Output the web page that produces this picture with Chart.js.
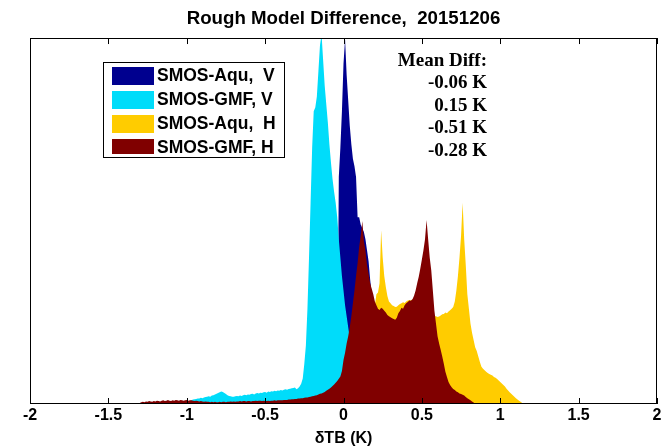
<!DOCTYPE html>
<html>
<head>
<meta charset="utf-8">
<script src="https://cdn.jsdelivr.net/npm/chart.js@4.4.1/dist/chart.umd.min.js"></script>
<style>
  body { margin: 0; background: #fff; }
  #wrap { width: 668px; height: 448px; }
</style>
</head>
<body>
<div id="wrap"><canvas id="hist" width="668" height="448"></canvas></div>
<script>
"use strict";
// histogram bins are 0.01 K wide, each series starts at its own first bin
const binWidth = 0.01;

const seriesLabels = ["SMOS-Aqu,  V", "SMOS-GMF, V", "SMOS-Aqu,  H", "SMOS-GMF, H"];
const seriesColors = ["#00008f", "#00dcfa", "#ffcc00", "#800000"];
const meanDiff = ["-0.06 K", "0.15 K", "-0.51 K", "-0.28 K"];
const xTicks = [-2, -1.5, -1, -0.5, 0, 0.5, 1, 1.5, 2];

// SMOS-Aqu, V (dark blue)
const aquVStart = -0.04;
const aquV = [
  0, 62, 70, 80, 93, 99.7, 90, 83, 76, 71,
  67, 65, 62, 51, 51, 49, 48, 47, 45, 42,
  39, 34, 30, 25, 18, 12, 6, 0
];

// SMOS-GMF, V (cyan)
const gmfVStart = -1.00;
const gmfV = [
  0.3, 0.5, 0.8, 1.0, 1.2, 1.3, 1.4, 1.5, 1.5, 1.7,
  1.6, 1.8, 1.9, 2.0, 2.1, 2.0, 2.3, 2.4, 2.6, 2.8,
  3.0, 3.2, 3.4, 3.3, 3.0, 2.7, 2.4, 2.2, 2.1, 2.0,
  2.0, 2.1, 2.2, 2.1, 2.3, 2.2, 2.4, 2.5, 2.4, 2.6,
  2.5, 2.7, 2.8, 2.6, 2.9, 3.0, 2.9, 3.1, 3.0, 3.2,
  3.3, 3.1, 3.4, 3.3, 3.5, 3.4, 3.6, 3.5, 3.7, 3.6,
  3.8, 3.7, 3.9, 4.0, 3.9, 4.1, 4.2, 4.3, 4.4, 4.5,
  4.0, 4.3, 4.8, 5.5, 7.0, 11, 16, 26, 40, 55,
  70, 80, 81, 84, 91, 98, 101, 94, 87, 82,
  77, 71, 66, 61.5, 58, 55, 51, 45, 40, 35,
  31, 27, 24, 21, 18, 11, 4, 0
];

// SMOS-Aqu, H (yellow)
const aquHStart = 0.00;
const aquH = [
  2, 3, 4, 5, 6, 7.5, 9, 10.5, 12, 13.5,
  15, 16.5, 18, 19.5, 21, 22, 23, 24, 24.5, 25,
  27, 30, 30.5, 33, 47.5, 40, 35, 32, 29.5, 28,
  27.5, 27, 26.8, 26.5, 26.6, 27, 27.3, 27.5, 27.8, 27.6,
  28, 28.3, 28.4, 28.3, 28.6, 28.4, 28, 27.8, 27.5, 27.2,
  27, 26.8, 26.5, 26.2, 26, 25.5, 25, 24.5, 24, 24,
  23.8, 23.9, 24.2, 24.5, 24.6, 25, 24.8, 25.3, 25.6, 26,
  26.5, 28, 31, 35, 40, 46, 55, 45, 38, 30,
  26, 22, 19.5, 17.5, 15.5, 14.5, 13, 11.5, 10.2, 9.6,
  9.2, 8.8, 8.5, 8.2, 8, 7.8, 7.4, 7.2, 6.8, 6.4,
  6, 5.6, 5.2, 4.8, 4.2, 3.7, 3.2, 2.8, 2.4, 2,
  1.6, 1.2, 0.9, 0.6, 0.3, 0
];

// SMOS-GMF, H (dark red)
const gmfHStart = -1.30;
const gmfH = [
  0.3, 0.5, 0.6, 0.5, 0.7, 0.6, 0.8, 0.7, 0.6, 0.8,
  0.7, 0.9, 0.8, 0.7, 0.9, 1.0, 0.8, 0.9, 1.1, 0.9,
  0.8, 1.0, 0.9, 1.1, 1.0, 0.9, 1.1, 1.0, 0.9, 1.0,
  1.1, 0.9, 1.0, 1.0, 0.9, 0.8, 0.9, 0.8, 0.7, 0.8,
  0.7, 0.6, 0.7, 0.6, 0.6, 0.5, 0.6, 0.5, 0.6, 0.5,
  0.5, 0.6, 0.5, 0.6, 0.6, 0.5, 0.6, 0.6, 0.7, 0.6,
  0.7, 0.6, 0.7, 0.7, 0.8, 0.7, 0.8, 0.8, 0.7, 0.8,
  0.8, 0.7, 0.8, 0.8, 0.9, 0.8, 0.9, 0.9, 0.8, 0.9,
  0.8, 0.8, 0.9, 0.8, 0.9, 0.9, 1.0, 0.9, 1.0, 1.0,
  1.0, 1.0, 1.1, 1.1, 1.1, 1.2, 1.2, 1.3, 1.3, 1.4,
  1.4, 1.5, 1.5, 1.6, 1.6, 1.7, 1.8, 1.8, 1.9, 2.0,
  2.1, 2.2, 2.3, 2.4, 2.6, 2.8, 2.9, 3.1, 3.3, 3.6,
  3.9, 4.2, 4.5, 4.9, 5.3, 5.8, 6.3, 6.9, 7.5, 9.0,
  12, 14, 16.5, 18.5, 21, 24, 27.5, 31, 35, 38.5,
  43, 46, 50, 44.5, 42, 38, 35.5, 33, 31.5, 30,
  28, 27, 26, 25.7, 26.3, 26, 25.5, 25, 24.3, 24,
  23.7, 23.4, 23.2, 23, 23.6, 24.8, 25.4, 26.3, 26, 27,
  27.5, 27.9, 28.3, 28.2, 28.6, 29.6, 31, 33, 34.8, 37,
  39.5, 42, 45, 50.3, 45, 40, 36.5, 31, 25.5, 22,
  18.5, 16.5, 14.8, 13, 11, 8.8, 7.4, 6, 5.2, 4.6,
  4.1, 3.8, 3.4, 3.2, 2.9, 2.7, 2.5, 2.3, 1.9, 1.6,
  1.3, 1.0, 0.7, 0.4, 0
];

// turn a bin start + counts into points for the linear x scale
function toPoints(start, counts) {
  return counts.map(function (c, i) {
    return { x: +(start + i * binWidth).toFixed(2), y: c };
  });
}

const seriesData = [
  toPoints(aquVStart, aquV),
  toPoints(gmfVStart, gmfV),
  toPoints(aquHStart, aquH),
  toPoints(gmfHStart, gmfH)
];

const datasets = seriesData.map(function (pts, i) {
  return {
    label: seriesLabels[i],
    data: pts,
    backgroundColor: seriesColors[i],
    borderColor: seriesColors[i],
    borderWidth: 0,
    pointRadius: 0,
    fill: "origin",
    tension: 0,
    order: 3 - i // later series sit on top, like the MATLAB plot
  };
});

// box + inward ticks
const framePlugin = {
  id: "frame",
  afterDatasetsDraw(chart) {
    const ctx = chart.ctx;
    const a = chart.chartArea;
    const xs = chart.scales.x;
    ctx.save();
    ctx.strokeStyle = "#000";
    ctx.lineWidth = 1;
    ctx.strokeRect(Math.round(a.left) + 0.5, Math.round(a.top) + 0.5,
      Math.round(a.right - a.left) - 1, Math.round(a.bottom - a.top) - 1);
    ctx.beginPath();
    xTicks.forEach(function (t) {
      const px = Math.round(xs.getPixelForValue(t)) + 0.5;
      ctx.moveTo(px, a.top);
      ctx.lineTo(px, a.top + 6);
      ctx.moveTo(px, a.bottom);
      ctx.lineTo(px, a.bottom - 6);
    });
    ctx.stroke();
    ctx.restore();
  }
};

// MATLAB style legend box inside the axes
const legendBoxPlugin = {
  id: "legendBox",
  afterDraw(chart) {
    const ctx = chart.ctx;
    const left = 103, top = 62, w = 181, h = 95;
    ctx.save();
    ctx.fillStyle = "#fff";
    ctx.fillRect(left, top, w, h);
    ctx.strokeStyle = "#000";
    ctx.lineWidth = 1;
    ctx.strokeRect(left + 0.5, top + 0.5, w, h);
    ctx.font = "bold 17.5px 'Liberation Sans', Arial, sans-serif";
    ctx.textBaseline = "middle";
    chart.data.datasets.forEach(function (ds, i) {
      const rowY = top + 5 + i * 24;
      ctx.fillStyle = ds.backgroundColor;
      ctx.fillRect(left + 9, rowY, 42, Math.min(18, top + h - 3 - rowY));
      ctx.fillStyle = "#000";
      ctx.fillText(ds.label, left + 54, rowY + 9.5);
    });
    ctx.restore();
  }
};

// mean difference annotation
const meanDiffPlugin = {
  id: "meanDiff",
  afterDraw(chart) {
    const ctx = chart.ctx;
    ctx.save();
    ctx.font = "bold 19px 'Liberation Serif', 'Times New Roman', serif";
    ctx.fillStyle = "#000";
    ctx.textAlign = "right";
    ctx.textBaseline = "middle";
    ctx.fillText("Mean Diff:", 487, 61);
    meanDiff.forEach(function (txt, i) {
      ctx.fillText(txt, 487, 83 + i * 22.7);
    });
    ctx.restore();
  }
};

new Chart(document.getElementById("hist"), {
  type: "line",
  data: { datasets: datasets },
  options: {
    responsive: false,
    animation: false,
    events: [],
    layout: { padding: { left: 30, right: 11, top: 0, bottom: 0 } },
    plugins: {
      legend: { display: false },
      tooltip: { enabled: false },
      title: {
        display: true,
        text: "Rough Model Difference,  20151206",
        color: "#000",
        font: { family: "'Liberation Sans', Arial, sans-serif", size: 18.7, weight: "bold" },
        padding: { top: 8, bottom: 7.6 }
      }
    },
    scales: {
      x: {
        type: "linear",
        min: -2,
        max: 2,
        afterBuildTicks: function (scale) {
          scale.ticks = xTicks.map(function (v) { return { value: v }; });
        },
        grid: { display: false, drawTicks: false },
        border: { display: false },
        ticks: {
          color: "#000",
          padding: 1.8,
          maxRotation: 0,
          callback: function (v) { return String(v); },
          font: { family: "'Liberation Sans', Arial, sans-serif", size: 16, weight: "bold" }
        },
        title: {
          display: true,
          text: "δTB (K)",
          color: "#000",
          padding: { top: 2, bottom: 0 },
          font: { family: "'Liberation Sans', Arial, sans-serif", size: 16, weight: "bold" }
        }
      },
      y: {
        display: false,
        min: 0,
        max: 100
      }
    }
  },
  plugins: [framePlugin, legendBoxPlugin, meanDiffPlugin]
});
</script>
</body>
</html>
